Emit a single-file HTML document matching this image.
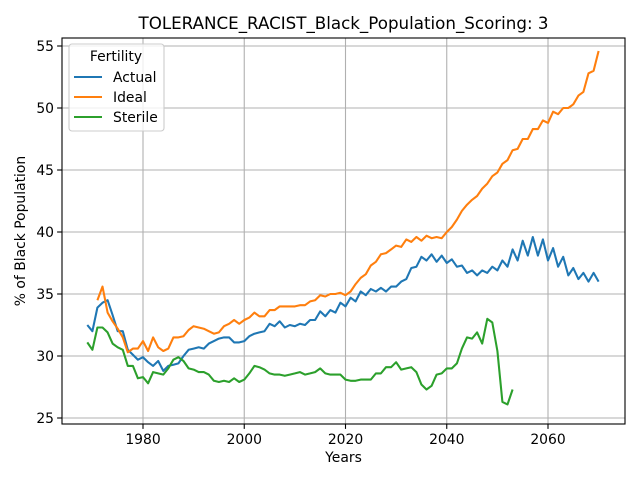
<!DOCTYPE html>
<html><head><meta charset="utf-8"><style>
body{margin:0;background:#fff;font-family:"Liberation Sans","DejaVu Sans",sans-serif}
text{font-family:"DejaVu Sans","Liberation Sans",sans-serif}
</style></head><body>
<svg id="chart" width="640" height="480" xmlns="http://www.w3.org/2000/svg">
<rect width="640" height="480" fill="#fff"/>
<g id="grid"></g><g id="series"></g><g id="axes"></g>
</svg>
<script>
const xTicks=[1980,2000,2020,2040,2060];
const yTicks=[25,30,35,40,45,50,55];
const actualStart=1969;
const actual=[32.5,32.0,33.9,34.3,34.5,33.3,32.0,32.0,30.5,30.1,29.7,29.9,29.5,29.2,29.6,28.8,29.2,29.3,29.4,30.0,30.5,30.6,30.7,30.6,31.0,31.2,31.4,31.5,31.5,31.1,31.1,31.2,31.6,31.8,31.9,32.0,32.6,32.4,32.8,32.3,32.5,32.4,32.6,32.5,32.9,32.9,33.6,33.2,33.7,33.5,34.3,34.0,34.7,34.4,35.2,34.9,35.4,35.2,35.5,35.2,35.6,35.6,36.0,36.2,37.1,37.2,38.0,37.7,38.2,37.6,38.1,37.5,37.8,37.2,37.3,36.7,36.9,36.5,36.9,36.7,37.2,36.9,37.7,37.2,38.6,37.7,39.3,38.1,39.6,38.1,39.4,37.7,38.7,37.2,38.0,36.5,37.1,36.2,36.7,36.0,36.7,36.0];
const idealStart=1971;
const ideal=[34.5,35.6,33.5,32.8,32.2,31.5,30.3,30.6,30.6,31.2,30.4,31.5,30.7,30.4,30.6,31.5,31.5,31.6,32.1,32.4,32.3,32.2,32.0,31.8,31.9,32.4,32.6,32.9,32.6,32.9,33.1,33.5,33.2,33.2,33.7,33.7,34.0,34.0,34.0,34.0,34.1,34.1,34.4,34.5,34.9,34.8,35.0,35.0,35.1,34.9,35.2,35.8,36.3,36.6,37.3,37.6,38.2,38.3,38.6,38.9,38.8,39.4,39.2,39.6,39.3,39.7,39.5,39.6,39.5,40.0,40.4,41.0,41.7,42.2,42.6,42.9,43.5,43.9,44.5,44.8,45.5,45.8,46.6,46.7,47.5,47.5,48.3,48.3,49.0,48.8,49.7,49.5,50.0,50.0,50.3,51.0,51.3,52.8,53.0,54.6];
const sterileStart=1969;
const sterile=[31.1,30.5,32.3,32.3,31.9,31.0,30.7,30.5,29.2,29.2,28.2,28.3,27.8,28.7,28.6,28.5,29.0,29.7,29.9,29.6,29.0,28.9,28.7,28.7,28.5,28.0,27.9,28.0,27.9,28.2,27.9,28.1,28.6,29.2,29.1,28.9,28.6,28.5,28.5,28.4,28.5,28.6,28.7,28.5,28.6,28.7,29.0,28.6,28.5,28.5,28.5,28.1,28.0,28.0,28.1,28.1,28.1,28.6,28.6,29.1,29.1,29.5,28.9,29.0,29.1,28.7,27.7,27.3,27.6,28.5,28.6,29.0,29.0,29.4,30.6,31.5,31.4,31.9,31.0,33.0,32.7,30.4,26.3,26.1,27.3];
const L=62,R=625,T=38,B=424;
const X=v=>143+(v-1980)*(405/80);
const Y=v=>418-(v-25)*(372/30);
const NS='http://www.w3.org/2000/svg';
function mk(tag,attrs,parent,txt){const e=document.createElementNS(NS,tag);for(const k in attrs)e.setAttribute(k,attrs[k]);if(txt!==undefined)e.textContent=txt;parent.appendChild(e);return e;}
const grid=document.getElementById('grid'),ser=document.getElementById('series'),ax=document.getElementById('axes');
xTicks.forEach(t=>{const l=mk('line',{x1:X(t),x2:X(t),y1:T,y2:B,stroke:'#b0b0b0','stroke-width':1.1},grid);


mk('line',{x1:X(t),x2:X(t),y1:B,y2:B+4.9,stroke:'#000','stroke-width':1.1},ax);
const tx=mk('text',{x:X(t),y:B+20,'font-size':13.9,'text-anchor':'middle'},ax,t);

});
yTicks.forEach(t=>{const l=mk('line',{x1:L,x2:R,y1:Y(t),y2:Y(t),stroke:'#b0b0b0','stroke-width':1.1},grid);


mk('line',{x1:L-4.9,x2:L,y1:Y(t),y2:Y(t),stroke:'#000','stroke-width':1.1},ax);
const tx=mk('text',{x:L-8,y:Y(t)+5,'font-size':13.9,'text-anchor':'end'},ax,t);

});
function line(arr,start,color,name){const p=arr.map((v,i)=>X(start+i).toFixed(1)+','+Y(v).toFixed(1)).join(' ');
const e=mk('polyline',{points:p,fill:'none',stroke:color,'stroke-width':2.08,'stroke-linejoin':'round'},ser);

}
line(actual,actualStart,'#1f77b4','actual-line');
line(ideal,idealStart,'#ff7f0e','ideal-line');
line(sterile,sterileStart,'#2ca02c','sterile-line');
const fr=mk('rect',{x:L,y:T,width:R-L,height:B-T,fill:'none',stroke:'#000','stroke-width':1.1},ax);


const ti=mk('text',{x:(L+R)/2,y:29,'font-size':16.7,'text-anchor':'middle'},ax,'TOLERANCE_RACIST_Black_Population_Scoring: 3');


const xl=mk('text',{x:(L+R)/2,y:462,'font-size':13.9,'text-anchor':'middle'},ax,'Years');


const yl=mk('text',{x:0,y:0,'font-size':13.9,'text-anchor':'middle',transform:'translate(25,231) rotate(-90)'},ax,'% of Black Population');


const lg=mk('g',{},ax);


mk('rect',{x:69,y:44,width:95,height:87,rx:3,fill:'#fff','fill-opacity':0.8,stroke:'#ccc','stroke-width':1.1},lg);
mk('text',{x:116,y:61,'font-size':13.9,'text-anchor':'middle'},lg,'Fertility');
[['Actual','#1f77b4'],['Ideal','#ff7f0e'],['Sterile','#2ca02c']].forEach((d,i)=>{const y=77+i*20;
const en=mk('g',{},lg);


mk('line',{x1:74,x2:102,y1:y,y2:y,stroke:d[1],'stroke-width':2.08},en);
mk('text',{x:113,y:y+5,'font-size':13.9},en,d[0]);});
</script>
</body></html>
